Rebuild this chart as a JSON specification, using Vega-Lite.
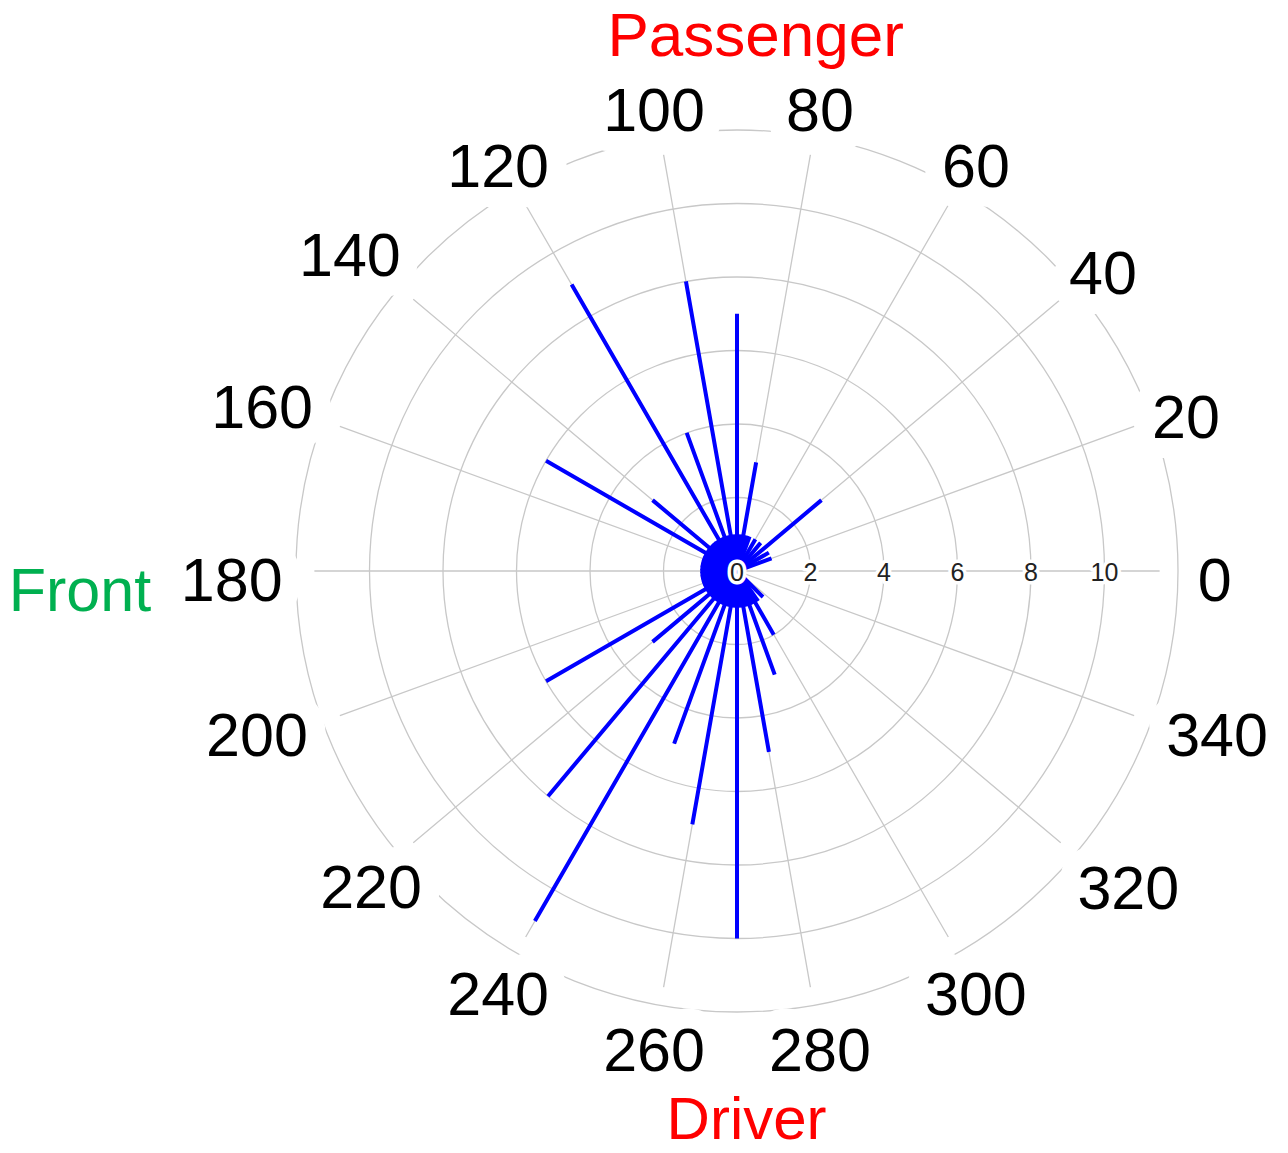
{
  "$schema": "https://vega.github.io/schema/vega-lite/v6.json",
  "width": 1102,
  "height": 1142,
  "autosize": {"type": "none"},
  "padding": {"left": 186, "top": 0, "right": 0, "bottom": 11},
  "background": "white",
  "view": {"stroke": null},
  "config": {"font": "Liberation Sans"},
  "datasets": {
    "rings": [{"r": 2}, {"r": 4}, {"r": 6}, {"r": 8}, {"r": 10}, {"r": 12}],
    "spokes": [{"a": 0}, {"a": 20}, {"a": 40}, {"a": 60}, {"a": 80}, {"a": 100}, {"a": 120}, {"a": 140}, {"a": 160}, {"a": 180}, {"a": 200}, {"a": 220}, {"a": 240}, {"a": 260}, {"a": 280}, {"a": 300}, {"a": 320}, {"a": 340}],
    "ringlabels": [{"r": 0}, {"r": 2}, {"r": 4}, {"r": 6}, {"r": 8}, {"r": 10}],
    "counts": [
      {"angle": 20, "n": 1}, {"angle": 30, "n": 1}, {"angle": 40, "n": 3}, {"angle": 50, "n": 1}, {"angle": 60, "n": 1}, {"angle": 70, "n": 1}, {"angle": 75, "n": 1},
      {"angle": 80, "n": 3}, {"angle": 85, "n": 1}, {"angle": 90, "n": 7}, {"angle": 95, "n": 1}, {"angle": 100, "n": 8}, {"angle": 105, "n": 1},
      {"angle": 110, "n": 4}, {"angle": 115, "n": 1}, {"angle": 120, "n": 9}, {"angle": 125, "n": 1}, {"angle": 130, "n": 1}, {"angle": 135, "n": 1},
      {"angle": 140, "n": 3}, {"angle": 145, "n": 1}, {"angle": 150, "n": 6}, {"angle": 155, "n": 1}, {"angle": 160, "n": 1}, {"angle": 165, "n": 1},
      {"angle": 170, "n": 1}, {"angle": 175, "n": 1}, {"angle": 180, "n": 1}, {"angle": 185, "n": 1}, {"angle": 190, "n": 1}, {"angle": 195, "n": 1},
      {"angle": 200, "n": 1}, {"angle": 205, "n": 1}, {"angle": 210, "n": 6}, {"angle": 215, "n": 1}, {"angle": 220, "n": 3}, {"angle": 225, "n": 1},
      {"angle": 230, "n": 8}, {"angle": 235, "n": 1}, {"angle": 240, "n": 11}, {"angle": 245, "n": 1}, {"angle": 250, "n": 5}, {"angle": 255, "n": 1},
      {"angle": 260, "n": 7}, {"angle": 265, "n": 1}, {"angle": 270, "n": 10}, {"angle": 275, "n": 1}, {"angle": 280, "n": 5}, {"angle": 285, "n": 1},
      {"angle": 290, "n": 3}, {"angle": 295, "n": 1}, {"angle": 300, "n": 2}, {"angle": 305, "n": 1}, {"angle": 315, "n": 1}
    ],
    "titles": [
      {"label": "Passenger", "pos": "top"},
      {"label": "Driver", "pos": "bottom"},
      {"label": "Front", "pos": "left"}
    ]
  },
  "layer": [
    {
      "data": {"name": "rings"},
      "mark": {"type": "arc", "filled": false, "stroke": "#c8c8c8", "strokeWidth": 1.3},
      "encoding": {
        "theta": {"datum": 0, "type": "quantitative", "scale": {"type": "linear", "domain": [0, 360], "range": [1.5707963267948966, -4.71238898038469], "nice": false, "zero": false}},
        "theta2": {"datum": 360},
        "radius": {"field": "r", "type": "quantitative", "stack": null, "scale": {"type": "linear", "domain": [0, 12], "range": [0, 441], "nice": false, "zero": true}}
      }
    },
    {
      "data": {"name": "spokes"},
      "mark": {"type": "arc", "filled": false, "stroke": "#c8c8c8", "strokeWidth": 1.3},
      "encoding": {
        "theta": {"field": "a", "type": "quantitative", "stack": null},
        "theta2": {"field": "a"},
        "radius": {"datum": 11.5, "type": "quantitative", "stack": null}
      }
    },
    {
      "data": {"name": "counts"},
      "mark": {"type": "arc", "filled": false, "stroke": "#0000ff", "strokeWidth": 4},
      "encoding": {
        "theta": {"field": "angle", "type": "quantitative", "stack": null},
        "theta2": {"field": "angle"},
        "radius": {"field": "n", "type": "quantitative", "stack": null}
      }
    },
    {
      "data": {"name": "ringlabels"},
      "mark": {"type": "text", "fontSize": 25, "stroke": "white", "strokeWidth": 7, "strokeJoin": "round", "fill": "white", "baseline": "middle", "align": "center", "dy": 2},
      "encoding": {
        "theta": {"datum": 0, "type": "quantitative"},
        "radius": {"field": "r", "type": "quantitative", "stack": null},
        "text": {"field": "r", "type": "nominal"}
      }
    },
    {
      "data": {"name": "ringlabels"},
      "mark": {"type": "text", "fontSize": 25, "fill": "#222222", "baseline": "middle", "align": "center", "dy": 2},
      "encoding": {
        "theta": {"datum": 0, "type": "quantitative"},
        "radius": {"field": "r", "type": "quantitative", "stack": null},
        "text": {"field": "r", "type": "nominal"}
      }
    },
    {
      "data": {"name": "spokes"},
      "transform": [{"filter": {"field": "a", "oneOf": [140, 160, 180]}}],
      "mark": {"type": "text", "fontSize": 61, "stroke": "white", "strokeWidth": 40, "strokeJoin": "round", "fill": "white", "baseline": "middle", "align": "center", "dy": 12},
      "encoding": {
        "theta": {"field": "a", "type": "quantitative", "stack": null},
        "radius": {"datum": 13.75, "type": "quantitative"},
        "text": {"field": "a", "type": "nominal"}
      }
    },
    {
      "data": {"name": "spokes"},
      "transform": [{"filter": {"field": "a", "oneOf": [200, 320, 340]}}],
      "mark": {"type": "text", "fontSize": 61, "stroke": "white", "strokeWidth": 40, "strokeJoin": "round", "fill": "white", "baseline": "middle", "align": "center", "dy": -8},
      "encoding": {
        "theta": {"field": "a", "type": "quantitative", "stack": null},
        "radius": {"datum": 13.9, "type": "quantitative"},
        "text": {"field": "a", "type": "nominal"}
      }
    },
    {
      "data": {"name": "spokes"},
      "transform": [{"filter": {"not": {"field": "a", "oneOf": [140, 160, 180, 200, 320, 340]}}}],
      "mark": {"type": "text", "fontSize": 61, "stroke": "white", "strokeWidth": 40, "strokeJoin": "round", "fill": "white", "baseline": "middle", "align": "center", "dy": 12},
      "encoding": {
        "theta": {"field": "a", "type": "quantitative", "stack": null},
        "radius": {"datum": 13.0, "type": "quantitative"},
        "text": {"field": "a", "type": "nominal"}
      }
    },
    {
      "data": {"name": "spokes"},
      "transform": [{"filter": {"field": "a", "oneOf": [140, 160, 180]}}],
      "mark": {"type": "text", "fontSize": 61, "fill": "black", "baseline": "middle", "align": "center", "dy": 12},
      "encoding": {
        "theta": {"field": "a", "type": "quantitative", "stack": null},
        "radius": {"datum": 13.75, "type": "quantitative"},
        "text": {"field": "a", "type": "nominal"}
      }
    },
    {
      "data": {"name": "spokes"},
      "transform": [{"filter": {"field": "a", "oneOf": [200, 320, 340]}}],
      "mark": {"type": "text", "fontSize": 61, "fill": "black", "baseline": "middle", "align": "center", "dy": -8},
      "encoding": {
        "theta": {"field": "a", "type": "quantitative", "stack": null},
        "radius": {"datum": 13.9, "type": "quantitative"},
        "text": {"field": "a", "type": "nominal"}
      }
    },
    {
      "data": {"name": "spokes"},
      "transform": [{"filter": {"not": {"field": "a", "oneOf": [140, 160, 180, 200, 320, 340]}}}],
      "mark": {"type": "text", "fontSize": 61, "fill": "black", "baseline": "middle", "align": "center", "dy": 12},
      "encoding": {
        "theta": {"field": "a", "type": "quantitative", "stack": null},
        "radius": {"datum": 13.0, "type": "quantitative"},
        "text": {"field": "a", "type": "nominal"}
      }
    },
    {
      "data": {"name": "titles"},
      "transform": [{"filter": "datum.pos === 'top'"}],
      "mark": {"type": "text", "fontSize": 62, "fill": "#ff0000", "baseline": "middle", "align": "center"},
      "encoding": {
        "theta": {"datum": 88, "type": "quantitative"},
        "radius": {"datum": 14.55, "type": "quantitative"},
        "text": {"field": "label", "type": "nominal"}
      }
    },
    {
      "data": {"name": "titles"},
      "transform": [{"filter": "datum.pos === 'bottom'"}],
      "mark": {"type": "text", "fontSize": 60, "fill": "#ff0000", "baseline": "middle", "align": "center"},
      "encoding": {
        "theta": {"datum": 271, "type": "quantitative"},
        "radius": {"datum": 14.98, "type": "quantitative"},
        "text": {"field": "label", "type": "nominal"}
      }
    },
    {
      "data": {"name": "titles"},
      "transform": [{"filter": "datum.pos === 'left'"}],
      "mark": {"type": "text", "fontSize": 61, "fill": "#00b050", "baseline": "middle", "align": "center"},
      "encoding": {
        "theta": {"datum": 181.96, "type": "quantitative"},
        "radius": {"datum": 17.89, "type": "quantitative"},
        "text": {"field": "label", "type": "nominal"}
      }
    }
  ]
}
